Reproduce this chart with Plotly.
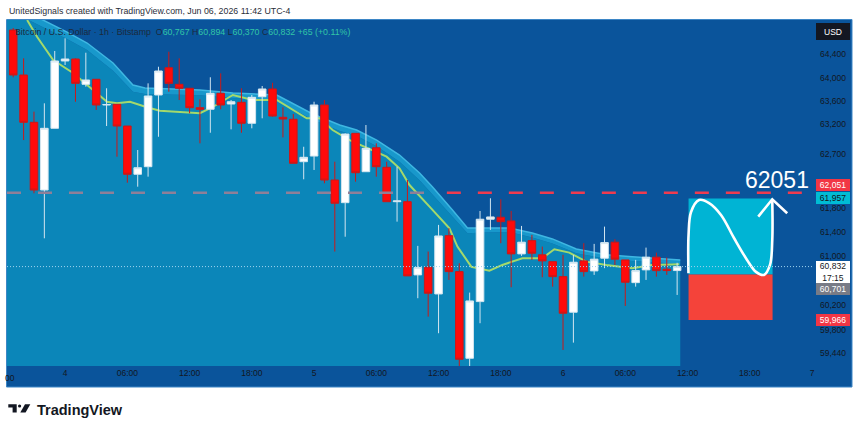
import plotly.graph_objects as go
import math

# ---------------- data ----------------
# candle times: hours relative to 2026-06-04 00:00 (UTC-4), 1h candles
candle_hours = list(range(-5, 60))
opens = [64825, 64046, 63237, 62097, 63135, 64288, 64322, 63886, 63972, 63532,
         63544, 63174, 62360, 62487, 63703, 64172, 63886, 63818, 63486, 63459,
         63732, 63549, 63578, 63220, 63674, 63806, 63322, 63288, 62571, 62666,
         63532, 62264, 61886, 63050, 62403, 62806, 62477, 61902, 61902, 60696,
         60822, 60386, 61340, 60750, 59351, 60262, 61611, 61644, 61583, 61040,
         61258, 61024, 60913, 60668, 60090, 60925, 60761, 60969, 61232, 60941,
         60570, 60778, 60986, 60789, 60767]
highs = [64860, 64334, 63418, 63561, 64461, 64681, 64334, 64431, 63972, 63818,
         63544, 63174, 62768, 63903, 64189, 64448, 64334, 63818, 63629, 64007,
         64075, 63617, 63818, 63703, 63857, 63913, 63493, 63379, 62823, 63588,
         63617, 62571, 63050, 63050, 63191, 62881, 62571, 62487, 62264, 61171,
         61078, 61517, 61462, 60887, 60408, 61748, 61959, 61942, 61748, 61500,
         61352, 61160, 60913, 61024, 61024, 61215, 61204, 61489, 61281, 60941,
         60941, 61143, 61061, 60979, 60894]
lows = [64007, 62936, 62042, 61296, 63135, 64218, 63588, 63845, 63447, 63174,
        62655, 62219, 62152, 62320, 62992, 63759, 63617, 63391, 62881, 63060,
        63459, 63118, 63060, 63135, 63305, 63333, 62982, 62544, 62276, 62432,
        62209, 61078, 61322, 62236, 62403, 62320, 61902, 61571, 60680, 60317,
        60019, 59752, 60614, 59217, 59197, 59913, 61434, 61215, 60495, 61007,
        60941, 60658, 60505, 59484, 59601, 60668, 60696, 60806, 60859, 60192,
        60505, 60614, 60668, 60696, 60370]
closes = [64046, 63237, 62097, 63135, 64288, 64322, 63903, 63960, 63532, 63540,
          63174, 62360, 62470, 63686, 64115, 63903, 63818, 63486, 63459, 63732,
          63532, 63588, 63220, 63663, 63806, 63344, 63293, 62544, 62645, 63532,
          62264, 61876, 63038, 62386, 62796, 62487, 61902, 61915, 60680, 60815,
          60398, 61335, 60750, 59335, 60273, 61611, 61649, 61571, 61040, 61232,
          61051, 60925, 60668, 60074, 60903, 60750, 60953, 61225, 60953, 60577,
          60766, 60986, 60766, 60767, 60832]

# moving average (green line)
ema_hours = [-3.66, -2.69, -1.15, 0.77, 2.69, 4.04, 5.0, 6.26, 7.89, 9.14, 13.0, 14.24,
             16.17, 18.09, 20.4, 21.94, 23.29, 24.54, 25.79, 27.43, 29.07, 30.99, 32.24,
             33.2, 35.13, 37.05, 37.82, 39.17, 40.9, 42.15, 44.08, 46.0, 47.16, 48.6,
             50.24, 52.17, 54.67, 56.6, 59.2]
ema_values = [65000, 64704, 64305, 64081, 63788, 63588, 63561, 63588, 63493, 63435, 63391, 63498,
              63703, 63617, 63617, 63447, 63305, 63305, 63106, 62936, 62801, 62655, 62460,
              62180, 61819, 61462, 61160, 60827, 60766, 60859, 60969, 60969, 61115, 61061,
              60913, 60859, 60806, 60859, 60870]

# cloud band
band_hours = [-6, -2.12, 0.19, 2.12, 4.62, 6.54, 7.7, 13.0, 16.17, 20.4, 22.62, 23.87, 26.47,
              28.1, 30.03, 32.24, 34.17, 35.42, 37.34, 38.79, 40.42, 42.83, 45.04, 46.97,
              49.28, 52.17, 54.67, 59.3]
band_upper = [65350, 65000, 64790, 64599, 64253, 63874, 63823, 63788, 63737, 63703, 63498, 63379,
              63191, 63106, 62936, 62683, 62382, 62147, 61764, 61467, 61467, 61467, 61385,
              61286, 61120, 61024, 60991, 60941]
band_lower = [65220, 64870, 64670, 64480, 64120, 63760, 63720, 63700, 63650, 63610, 63400, 63280,
              63090, 63010, 62830, 62570, 62260, 62020, 61650, 61380, 61390, 61400, 61310,
              61210, 61050, 60960, 60925, 60875]

# levels
resistance = 62051
last_price = 60832
target_price = 61957
entry_price = 60701
stop_price = 59966
pos_start, pos_end = 60.1, 68.2

# hand drawing (white curve + arrow)
curve_hours = [60.09, 60.10, 60.34, 61.11, 62.08, 63.23, 64.48, 65.74, 66.60, 67.37, 67.95, 68.17, 68.17]
curve_prices = [60724, 61352, 61731, 61930, 61880, 61682, 61301, 60941, 60746, 60696, 60859, 61268, 61930]
arrow_hours = [66.82, 68.17, 69.61]
arrow_prices = [61654, 61942, 61710]

tick_hours = [0, 6, 12, 18, 24, 30, 36, 42, 48, 54, 60, 66, 72]
tick_text = ["4", "06:00", "12:00", "18:00", "5", "06:00", "12:00", "18:00", "6", "06:00", "12:00", "18:00", "7"]
price_ticks = [64400, 64000, 63600, 63200, 62700, 61800, 61400, 61000, 60200, 59800, 59440]

header = "UnitedSignals created with TradingView.com, Jun 06, 2026 11:42 UTC-4"
symbol = "Bitcoin / U.S. Dollar · 1h · Bitstamp"
ohlc_now = [("O", "60,767"), ("H", "60,894"), ("L", "60,370"), ("C", "60,832")]
change_now = "+65 (+0.11%)"

# ---------------- style ----------------
BG = "#0a549b"
FILL = "#0b86b9"
STRIP = "#1898cb"
EDGE = "#3fb7e2"
FONT = "Liberation Sans"
TXT = "#131722"

L_M, R_M, T_M, B_M = 7, 48, 20, 65
W, H = 860, 431
PW, PH = W - L_M - R_M, H - T_M - B_M
Y_RANGE = [math.log10(59228), math.log10(65000)]


def pxx(x):
    return (x - L_M) / PW


def pxy(y):
    return (H - B_M - y) / PH


fig = go.Figure()

# cloud fill
fig.add_trace(go.Scatter(x=band_hours, y=band_lower, mode="lines", line=dict(width=0, color=FILL),
                         fill="tozeroy", fillcolor=FILL, hoverinfo="skip"))
fig.add_trace(go.Scatter(x=band_hours, y=band_upper, mode="lines", line=dict(width=1.5, color=EDGE),
                         fill="tonexty", fillcolor=STRIP, hoverinfo="skip"))
# moving average
fig.add_trace(go.Scatter(x=ema_hours, y=ema_values, mode="lines", line=dict(width=2, color="#a3d96c"),
                         hoverinfo="skip"))
# drawing
fig.add_trace(go.Scatter(x=curve_hours, y=curve_prices, mode="lines",
                         line=dict(color="white", width=2.6, shape="spline", smoothing=1.0), hoverinfo="skip"))
fig.add_trace(go.Scatter(x=arrow_hours, y=arrow_prices, mode="lines",
                         line=dict(color="white", width=2.6), hoverinfo="skip"))
# candles on an overlaid (identical) axis so they sit above the cloud
fig.add_trace(go.Candlestick(
    x=candle_hours, open=opens, high=highs, low=lows, close=closes, yaxis="y2",
    increasing=dict(fillcolor="#ffffff", line=dict(color="#d4e6f0", width=1)),
    decreasing=dict(fillcolor="#ff0a0a", line=dict(color="#cc1818", width=1)),
    whiskerwidth=0,
))

shapes = []
# pane frame / axis strips
shapes.append(dict(type="rect", xref="paper", yref="paper", x0=1.0, x1=pxx(852), y0=pxy(387), y1=1.0,
                   fillcolor=BG, line=dict(width=0), layer="below"))
shapes.append(dict(type="rect", xref="paper", yref="paper", x0=0, x1=pxx(852), y0=pxy(387), y1=0,
                   fillcolor=BG, line=dict(width=0), layer="below"))
shapes.append(dict(type="rect", xref="paper", yref="paper", x0=pxx(6.5), x1=pxx(852), y0=pxy(387), y1=pxy(19.5),
                   fillcolor="rgba(0,0,0,0)", line=dict(width=1, color="#3d86c6"), layer="above"))
# position tool rectangles
shapes.append(dict(type="rect", xref="x", yref="y", x0=pos_start, x1=pos_end, y0=entry_price, y1=target_price,
                   fillcolor="#00b4d4", line=dict(width=0), layer="below"))
shapes.append(dict(type="rect", xref="x", yref="y", x0=pos_start, x1=pos_end, y0=stop_price, y1=entry_price,
                   fillcolor="#f4433a", line=dict(width=0), layer="below"))
# resistance dashed line (muted where it sits inside the cloud)
cross_h = 35.9
shapes.append(dict(type="line", xref="x", yref="y", x0=-5.6, x1=cross_h, y0=resistance, y1=resistance,
                   line=dict(color="#8f7f98", width=2.5, dash="14px,17px"), layer="above"))
shapes.append(dict(type="line", xref="x", yref="y", x0=cross_h + 0.9, x1=72, y0=resistance, y1=resistance,
                   line=dict(color="#ef3b4f", width=2.5, dash="14px,17px"), layer="above"))
# last price dotted line
shapes.append(dict(type="line", xref="paper", yref="y", x0=0, x1=1, y0=last_price, y1=last_price,
                   line=dict(color="#9fd3ee", width=1, dash="1px,2px"), layer="above"))


# TradingView logo icon (pixel -> paper)
def path_poly(pts):
    return "M " + " L ".join(f"{pxx(a):.5f},{pxy(b):.5f}" for a, b in pts) + " Z"


shapes.append(dict(type="path", xref="paper", yref="paper",
                   path=path_poly([(8.3, 404.3), (16.7, 404.3), (16.7, 412.5), (12.6, 412.5), (12.6, 407.6), (8.3, 407.6)]),
                   fillcolor=TXT, line=dict(width=0)))
shapes.append(dict(type="circle", xref="paper", yref="paper", x0=pxx(18.0), x1=pxx(21.2), y0=pxy(407.6), y1=pxy(404.4),
                   fillcolor=TXT, line=dict(width=0)))
shapes.append(dict(type="path", xref="paper", yref="paper",
                   path=path_poly([(25.0, 404.3), (30.3, 404.3), (25.6, 412.5), (20.3, 412.5)]),
                   fillcolor=TXT, line=dict(width=0)))

annotations = []
annotations.append(dict(xref="paper", yref="paper", x=pxx(7), y=pxy(11), xanchor="left", yanchor="middle",
                        text=header, showarrow=False, font=dict(family=FONT, size=8.8, color="#2a2e39")))
VAL = "#32c6a6"
legend_txt = symbol + "&nbsp;&nbsp;" + "&nbsp;".join(f"{k}<span style='color:{VAL}'>{v}</span>" for k, v in ohlc_now) \
    + f"&nbsp;<span style='color:{VAL}'>{change_now}</span>"
annotations.append(dict(xref="paper", yref="paper", x=pxx(12.5), y=pxy(31.5), xanchor="left", yanchor="middle",
                        text=legend_txt, showarrow=False, font=dict(family=FONT, size=8.8, color="#1b2a3c")))
annotations.append(dict(xref="paper", yref="paper", x=pxx(35), y=pxy(410), xanchor="left", yanchor="middle",
                        text="<b>TradingView</b>", showarrow=False, font=dict(family=FONT, size=14.5, color=TXT)))
annotations.append(dict(xref="paper", yref="paper", x=pxx(10), y=pxy(378), xanchor="center", yanchor="middle",
                        text="00", showarrow=False, font=dict(family=FONT, size=8.5, color=TXT)))
annotations.append(dict(xref="x", yref="paper", x=68.6, y=pxy(180), xanchor="center", yanchor="middle",
                        text="62051", showarrow=False, font=dict(family=FONT, size=23, color="white")))


# price scale labels
def axis_label(text, ycen, bg, fg, h=10):
    annotations.append(dict(xref="paper", yref="paper", x=pxx(833), y=pxy(ycen), xanchor="center", yanchor="middle",
                            text=text, showarrow=False, bgcolor=bg, width=32, height=h, borderpad=1, borderwidth=0,
                            font=dict(family=FONT, size=8.5, color=fg)))


axis_label("USD", 31.3, TXT, "white", 15)
axis_label(f"{resistance:,}", 185.3, "#f23645", "white")
axis_label(f"{target_price:,}", 198.3, "#00bcd4", TXT)
axis_label(f"{last_price:,}<br>17:15", 272, "white", TXT, 20)
axis_label(f"{entry_price:,}", 289, "#787b86", "white")
axis_label(f"{stop_price:,}", 319.7, "#f23645", "white")

fig.update_layout(
    width=W, height=H, margin=dict(l=L_M, r=R_M, t=T_M, b=B_M),
    paper_bgcolor="white", plot_bgcolor=BG, showlegend=False,
    shapes=shapes, annotations=annotations, boxgap=0.27, boxgroupgap=0,
    font=dict(family=FONT, size=8.5, color=TXT),
    yaxis2=dict(overlaying="y", side="right", type="log", range=Y_RANGE, visible=False, showgrid=False,
                zeroline=False, fixedrange=True),
)
fig.update_xaxes(range=[-5.6, 72.0], tickvals=tick_hours, ticktext=tick_text, showgrid=False, zeroline=False,
                 ticks="", rangeslider=dict(visible=False), tickfont=dict(family=FONT, size=8.5, color=TXT),
                 fixedrange=True)
fig.layout.yaxis.update(type="log", side="right", range=Y_RANGE,
                        tickvals=price_ticks, ticktext=[f"{v:,}" for v in price_ticks], showgrid=False, zeroline=False,
                        ticks="", ticklabelstandoff=7, tickfont=dict(family=FONT, size=8.5, color=TXT))

fig.write_html("out.html")
